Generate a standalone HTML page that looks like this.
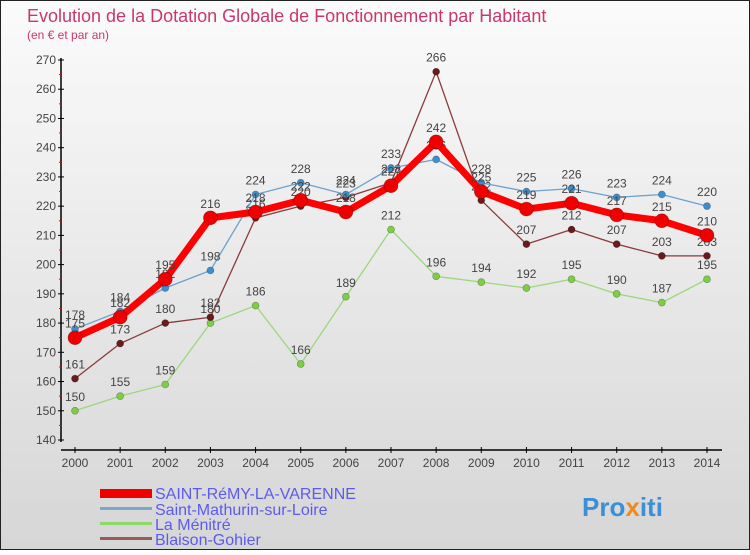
<!DOCTYPE html>
<html><head><meta charset="utf-8"><style>
body{margin:0}
svg text{font-family:"Liberation Sans",sans-serif}
</style></head><body>
<svg width="750" height="550" xmlns="http://www.w3.org/2000/svg">
<defs><linearGradient id="bg" x1="0" y1="0" x2="0" y2="1"><stop offset="0" stop-color="#fbfbfb"/><stop offset="1" stop-color="#d6d6d6"/></linearGradient></defs>
<rect x="0.5" y="0.5" width="749" height="549" fill="url(#bg)" stroke="#222"/>
<text x="27" y="22" font-size="18" fill="#c8386e">Evolution de la Dotation Globale de Fonctionnement par Habitant</text>
<text x="27" y="39" font-size="12" fill="#c8386e">(en € et par an)</text>
<g id="axes"></g>
<g id="series"></g>
<g id="legend">
<rect x="100" y="489" width="52" height="9" fill="#e00"/>
<text x="155" y="499" font-size="16" fill="#5b5bef">SAINT-RéMY-LA-VARENNE</text>
<rect x="100" y="507" width="52" height="3" fill="#7aa7c9"/>
<text x="155" y="515" font-size="16" fill="#5b5bef">Saint-Mathurin-sur-Loire</text>
<rect x="100" y="522" width="52" height="3" fill="#8fd96a"/>
<text x="155" y="530" font-size="16" fill="#5b5bef">La Ménitré</text>
<rect x="100" y="537" width="52" height="3" fill="#9a5a5a"/>
<text x="155" y="545" font-size="16" fill="#5b5bef">Blaison-Gohier</text>
</g>
<text x="582" y="516" font-size="26" font-weight="bold" fill="#3a8fd8">Pro<tspan fill="#f08a1c">x</tspan>iti</text>
</svg>
<script>
const years=[2000,2001,2002,2003,2004,2005,2006,2007,2008,2009,2010,2011,2012,2013,2014];
const yTicks=[140,150,160,170,180,190,200,210,220,230,240,250,260,270];
const remy=[175,182,195,216,218,222,218,227,242,225,219,221,217,215,210];
const mathurin=[178,184,192,198,224,228,224,233,236,228,225,226,223,224,220];
const menitre=[150,155,159,180,186,166,189,212,196,194,192,195,190,187,195];
const blaison=[161,173,180,182,216,220,223,228,266,222,207,212,207,203,203];
const NS="http://www.w3.org/2000/svg";
const X=i=>75+i*(707-75)/(years.length-1);
const Y=v=>440-(v-140)*(380/130);
function mk(tag,attrs,parent){const e=document.createElementNS(NS,tag);for(const k in attrs)e.setAttribute(k,attrs[k]);parent.appendChild(e);return e;}
const ax=document.getElementById('axes');
let l=mk('line',{x1:61,y1:58,x2:61,y2:442,stroke:'#000','stroke-width':1.5},ax);


l=mk('line',{x1:61,y1:450,x2:722,y2:450,stroke:'#000','stroke-width':1.5},ax);


yTicks.forEach((v,i)=>{
  mk('line',{x1:58,y1:Y(v),x2:64,y2:Y(v),stroke:'#000'},ax);
  if(i<yTicks.length-1) mk('line',{x1:59,y1:Y(v+5),x2:62,y2:Y(v+5),stroke:'#e00'},ax);
  const t=mk('text',{x:56,y:Y(v)+4,'font-size':12,fill:'#444','text-anchor':'end'},ax);t.textContent=v;
  
  
});
years.forEach((y,i)=>{
  mk('line',{x1:X(i),y1:447,x2:X(i),y2:453,stroke:'#000'},ax);
  const t=mk('text',{x:X(i),y:467,'font-size':12,fill:'#444','text-anchor':'middle'},ax);t.textContent=y;
  
  
});
const sg=document.getElementById('series');
function draw(data,color,dot,w,r,name){
  const g=mk('g',{},sg);
  
  
  const p=mk('polyline',{points:data.map((v,i)=>X(i)+','+Y(v)).join(' '),fill:'none',stroke:color,'stroke-width':w,'stroke-linejoin':'round'},g);
  
  
  data.forEach((v,i)=>{
    const c=mk('circle',{cx:X(i),cy:Y(v),r:r,fill:dot,stroke:'rgba(0,0,0,0.3)','stroke-width':0.7},g);
    
    
    const t=mk('text',{x:X(i),y:Y(v)-10,'font-size':12,fill:'#444','text-anchor':'middle'},g);t.textContent=v;
    
    
  });
}
draw(menitre,'#9ad87a','#7ccf45',1.3,3.5,'la-menitre');
draw(blaison,'#8a3a3a','#6a1a1a',1.3,3.5,'blaison-gohier');
draw(mathurin,'#6aa3d0','#3b8fd0',1.3,3.5,'saint-mathurin');
draw(remy,'#f00','#e00',7,7,'saint-remy');
</script>
</body></html>
